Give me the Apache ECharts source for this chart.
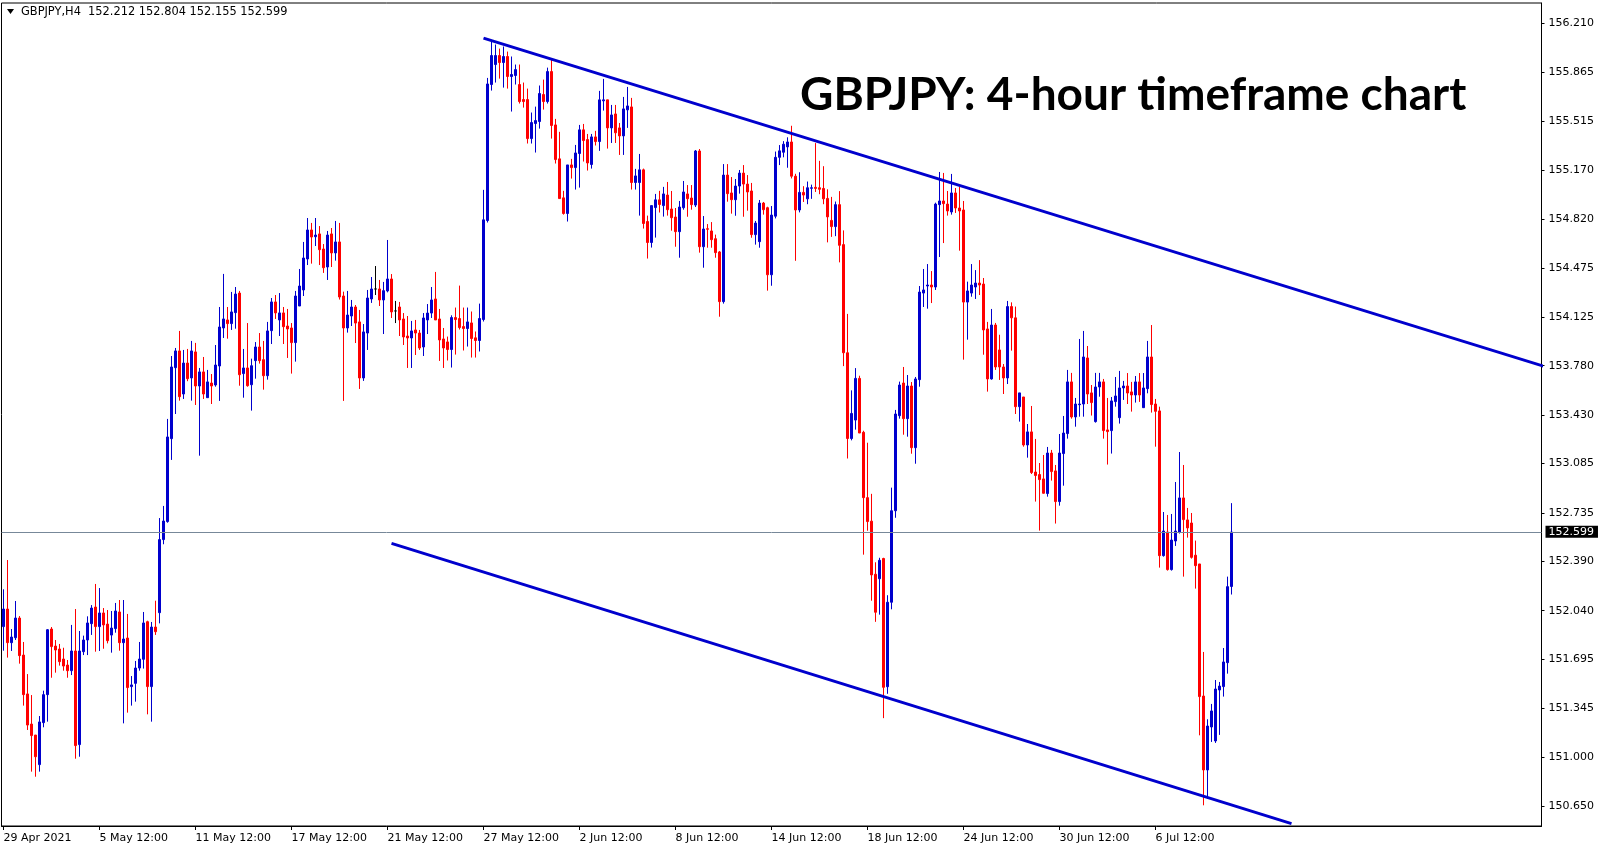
<!DOCTYPE html>
<html>
<head>
<meta charset="utf-8">
<script src="https://cdn.jsdelivr.net/npm/echarts@6/dist/echarts.min.js"></script>
<style>
html,body{margin:0;padding:0;background:#fff;}
#c{width:1607px;height:850px;}
</style>
</head>
<body>
<div id="c"></div>
<script>
// ---- data (GBPJPY H4) ----
const symbolHeader = "GBPJPY,H4  152.212 152.804 152.155 152.599";
const titleText = "GBPJPY: 4-hour timeframe chart";
const lastPrice = 152.599;

const xTickLabels = ["29 Apr 2021","5 May 12:00","11 May 12:00","17 May 12:00","21 May 12:00","27 May 12:00","2 Jun 12:00","8 Jun 12:00","14 Jun 12:00","18 Jun 12:00","24 Jun 12:00","30 Jun 12:00","6 Jul 12:00"];
const barsPerLabel = 24;
const totalSlots = 385;

const yTickValues = [156.210,155.865,155.515,155.170,154.820,154.475,154.125,153.780,153.430,153.085,152.735,152.390,152.040,151.695,151.345,151.000,150.650];
const yMin = 150.511, yMax = 156.356;

const opens = [151.927,152.052,151.813,151.848,151.988,151.725,151.449,151.235,151.157,150.947,151.245,151.444,151.910,151.789,151.768,151.697,151.654,151.614,151.754,151.089,151.749,151.832,151.948,152.066,151.927,152.024,151.945,151.867,151.913,152.031,151.813,151.846,151.501,151.524,151.633,151.695,151.962,151.501,151.924,152.026,152.545,152.673,153.262,153.766,153.885,153.579,153.799,153.693,153.878,153.636,153.736,153.553,153.657,153.643,153.778,154.048,154.105,154.079,154.157,154.296,153.724,153.764,153.645,153.816,153.913,153.823,153.709,154.029,154.233,154.105,154.155,154.062,154.048,153.944,154.204,154.318,154.538,154.744,154.696,154.716,154.609,154.481,154.716,154.581,154.659,154.275,154.048,154.133,154.197,154.091,153.693,154.012,154.254,154.325,154.325,154.247,154.311,154.396,154.169,154.197,154.112,153.991,153.977,154.034,154.012,153.913,154.105,154.154,154.254,154.112,153.970,153.949,153.895,154.122,154.115,154.058,154.044,154.084,153.978,153.959,154.108,154.811,155.777,155.919,155.983,155.933,155.976,155.834,155.841,155.777,155.670,155.670,155.393,155.500,155.514,155.706,155.656,155.869,155.490,155.249,154.972,154.861,155.206,155.187,155.287,155.455,155.386,155.209,155.405,155.372,155.661,155.668,155.469,155.568,155.469,155.412,155.597,155.618,155.081,155.081,155.171,154.804,154.655,154.903,154.958,154.917,154.992,154.893,154.836,154.732,154.902,155.000,154.971,154.921,155.305,154.625,154.753,154.737,154.682,154.588,154.235,155.134,155.007,154.959,155.056,155.148,155.070,155.021,154.711,154.661,154.935,154.902,154.426,154.842,155.260,155.296,155.334,155.369,155.126,154.886,155.011,154.965,155.040,155.047,155.044,155.039,154.968,154.812,154.768,154.924,154.640,153.872,153.263,153.394,153.690,153.307,152.843,152.676,152.299,152.267,152.411,151.500,152.100,152.750,153.425,153.657,153.404,153.636,153.198,153.681,154.296,154.346,154.353,154.339,154.924,154.950,154.928,154.872,155.007,154.900,154.886,154.232,154.296,154.339,154.367,154.360,154.041,153.686,154.069,153.892,153.771,153.693,154.200,154.120,153.489,153.558,153.217,153.310,153.025,153.007,152.976,152.872,153.160,153.033,152.815,153.156,153.298,153.665,153.416,153.503,153.508,153.835,153.587,153.383,153.629,153.665,153.324,153.319,153.525,153.411,153.622,153.636,153.594,153.572,153.665,153.482,153.617,153.842,153.508,153.459,152.431,152.599,152.332,152.535,152.599,152.841,152.685,152.663,152.434,152.372,151.434,150.909,151.214,151.115,151.477,151.501,151.671,152.212];
const highs = [152.192,152.400,151.910,152.109,152.002,151.818,151.590,151.441,151.157,151.292,151.472,151.910,151.924,151.832,151.804,151.777,151.690,151.939,152.052,151.896,151.863,152.000,152.080,152.230,152.201,152.059,152.045,152.038,152.095,152.116,152.116,152.017,151.576,151.683,151.818,152.031,151.969,151.960,152.111,152.698,152.784,153.402,153.849,153.906,154.027,153.892,153.899,153.956,153.942,153.764,153.842,153.750,153.721,153.927,154.197,154.432,154.197,154.304,154.339,154.311,153.899,154.083,153.830,153.948,154.012,153.956,154.091,154.261,154.282,154.296,154.197,154.183,154.083,154.311,154.467,154.659,154.829,154.794,154.829,154.772,154.644,154.737,154.758,154.808,154.794,154.306,154.311,154.247,154.211,154.176,154.076,154.318,154.410,154.488,154.389,154.375,154.673,154.431,154.240,154.233,154.154,154.133,154.098,154.105,154.034,154.154,154.218,154.339,154.446,154.183,154.048,153.987,154.138,154.193,154.349,154.193,154.193,154.165,154.023,154.221,155.029,155.824,156.082,156.061,156.032,156.047,156.011,155.976,155.919,155.919,155.791,155.748,155.578,155.620,155.770,155.812,155.897,155.954,155.533,155.441,155.022,155.206,155.249,155.348,155.490,155.497,155.426,155.426,155.448,155.732,155.817,155.668,155.632,155.632,155.504,155.689,155.760,155.682,155.178,155.284,155.180,154.846,154.917,155.000,155.022,155.050,155.085,155.021,154.900,154.950,155.092,155.063,155.063,155.312,155.319,154.843,154.786,154.800,154.711,154.595,155.212,155.212,155.120,155.106,155.170,155.205,155.134,155.078,154.808,154.957,154.943,154.909,154.914,155.301,155.347,155.375,155.402,155.484,155.143,155.154,155.055,155.088,155.066,155.361,155.235,155.197,155.033,154.979,154.946,155.020,154.741,154.148,153.605,153.763,153.709,153.318,153.233,152.870,152.384,152.416,152.416,152.150,152.914,153.466,153.667,153.771,153.714,153.664,153.700,154.346,154.467,154.502,154.452,154.938,155.156,155.149,155.021,155.142,155.042,155.049,154.950,154.377,154.502,154.459,154.530,154.403,154.091,154.183,154.084,154.000,153.792,154.240,154.230,154.200,153.587,153.558,153.366,153.494,153.260,153.089,153.146,153.203,153.182,153.075,153.295,153.423,153.750,153.729,153.551,153.970,154.027,153.920,153.643,153.729,153.729,153.686,153.551,153.558,153.700,153.743,153.672,153.728,153.665,153.707,153.728,153.728,153.956,154.069,153.544,153.489,152.741,152.720,152.727,152.954,153.167,153.075,152.770,152.734,152.538,152.372,151.747,151.269,151.378,151.548,151.534,151.775,152.282,152.804];
const lows = [151.756,151.707,151.754,151.832,151.664,151.366,151.193,150.897,150.861,150.897,151.212,151.252,151.564,151.600,151.650,151.614,151.564,151.583,150.989,151.003,151.725,151.725,151.868,151.749,151.754,151.770,151.808,151.742,151.884,151.756,151.240,151.316,151.366,151.394,151.614,151.629,151.304,151.252,151.868,151.950,152.512,152.665,153.111,153.437,153.532,153.544,153.670,153.532,153.501,153.141,153.544,153.553,153.508,153.631,153.530,153.977,153.972,154.034,154.043,153.638,153.553,153.631,153.461,153.688,153.795,153.610,153.681,153.934,154.112,153.991,153.934,153.835,153.724,153.809,154.204,154.275,154.495,154.505,154.630,154.495,154.439,154.389,154.481,154.526,154.250,153.530,154.015,154.062,153.941,153.615,153.672,153.892,154.226,154.282,154.204,154.005,154.301,154.119,154.083,153.991,153.927,153.764,153.764,153.856,153.892,153.849,154.005,154.119,154.105,153.814,153.764,153.817,153.767,153.859,154.037,153.888,153.916,153.838,153.838,153.881,154.094,154.797,155.734,155.791,155.819,155.755,155.748,155.585,155.777,155.642,155.613,155.358,155.358,155.294,155.464,155.599,155.642,155.393,155.216,154.967,154.853,154.804,155.109,155.031,155.045,155.230,155.166,155.180,155.344,155.306,155.592,155.322,155.362,155.362,155.277,155.277,155.469,155.031,155.031,154.846,154.754,154.541,154.619,154.690,154.868,154.839,154.846,154.739,154.625,154.547,154.888,154.838,154.888,154.907,154.583,154.476,154.618,154.618,154.547,154.128,154.221,154.945,154.860,154.845,155.002,154.838,154.881,154.689,154.640,154.618,154.853,154.313,154.348,154.826,155.205,155.260,155.186,155.110,154.525,154.869,154.943,154.927,154.965,155.014,154.998,154.927,154.656,154.695,154.700,154.514,153.777,153.121,153.250,153.326,153.302,152.438,152.608,152.111,151.961,152.012,151.277,151.450,152.050,152.700,153.404,153.290,153.276,153.155,153.084,153.631,154.197,154.185,154.225,154.318,154.552,154.651,154.846,154.853,154.865,154.597,153.823,153.965,154.270,154.254,154.282,153.858,153.596,153.681,153.750,153.679,153.579,153.650,153.887,153.437,153.383,153.205,153.127,153.011,152.815,152.609,152.872,152.850,152.964,152.659,152.786,152.928,153.262,153.404,153.347,153.418,153.418,153.508,153.426,153.376,153.560,153.262,153.078,153.156,153.489,153.369,153.537,153.508,153.454,153.518,153.523,153.482,153.584,153.447,153.205,152.346,152.424,152.325,152.325,152.500,152.588,152.282,152.559,152.410,152.197,151.155,150.658,150.703,151.108,151.101,151.158,151.430,151.593,152.155];
const closes = [152.052,151.813,151.853,151.988,151.721,151.444,151.228,151.153,151.003,151.250,151.444,151.905,151.785,151.761,151.678,151.647,151.614,151.754,151.082,151.754,151.832,151.953,152.059,151.927,152.024,151.939,151.827,151.917,152.038,151.813,151.839,151.494,151.513,151.633,151.697,151.953,151.501,151.924,151.891,152.545,152.677,153.274,153.771,153.885,153.560,153.799,153.688,153.885,153.636,153.736,153.579,153.665,153.636,153.785,154.055,154.112,154.079,154.162,154.289,153.716,153.764,153.638,153.780,153.913,153.816,153.709,154.027,154.233,154.155,154.155,154.057,154.041,153.944,154.275,154.346,154.545,154.744,154.694,154.708,154.604,154.476,154.708,154.581,154.659,154.268,154.048,154.140,154.197,154.083,153.693,154.020,154.261,154.325,154.325,154.247,154.313,154.396,154.162,154.169,154.105,153.984,153.977,154.027,154.012,153.906,154.119,154.154,154.247,154.105,153.963,153.906,153.895,154.122,154.108,154.051,154.044,154.091,153.973,153.959,154.115,154.816,155.781,155.983,155.983,155.933,155.976,155.834,155.848,155.883,155.656,155.656,155.393,155.507,155.521,155.713,155.656,155.869,155.486,155.244,154.967,154.861,155.206,155.187,155.291,155.455,155.379,155.220,155.405,155.372,155.668,155.668,155.469,155.561,155.434,155.412,155.604,155.625,155.081,155.128,155.171,154.790,154.655,154.917,154.958,154.925,155.000,154.888,154.831,154.732,154.907,155.014,154.966,154.924,155.305,154.625,154.751,154.749,154.675,154.583,154.235,155.134,155.002,154.959,155.056,155.148,155.070,155.014,154.711,154.793,154.935,154.888,154.426,154.850,155.260,155.306,155.353,155.369,155.126,154.886,155.011,154.992,155.044,155.044,155.039,155.033,154.965,154.837,154.768,154.924,154.635,153.872,153.263,153.441,153.690,153.302,152.843,152.673,152.294,152.029,152.398,151.496,152.100,152.750,153.437,153.643,153.404,153.636,153.198,153.686,154.303,154.318,154.353,154.339,154.928,154.950,154.931,154.879,155.007,154.900,154.879,154.232,154.311,154.353,154.367,154.353,154.034,153.686,154.069,153.771,153.771,153.693,154.200,154.120,153.489,153.587,153.217,153.310,153.021,153.000,152.971,152.874,153.160,153.028,152.815,153.160,153.302,153.665,153.416,153.508,153.508,153.842,153.579,153.518,153.629,153.665,153.319,153.312,153.530,153.565,153.622,153.636,153.586,153.572,153.665,153.572,153.622,153.842,153.504,153.456,152.431,152.606,152.332,152.542,152.606,152.841,152.687,152.628,152.419,152.360,151.430,150.909,151.221,151.328,151.484,151.505,151.676,152.211,152.599];

// trend lines: [bar index, price] end points
const upperTrend = [[120, 156.107], [385, 153.777]];
const lowerTrend = [[97, 152.518], [322, 150.528]];

// ---- build ----
const categories = Array.from({length: totalSlots}, (_, i) => String(i));
const candleData = opens.map((o, i) => [o, closes[i], lows[i], highs[i]]);
const isLabelIdx = (i) => i % barsPerLabel === 0 && i / barsPerLabel < xTickLabels.length;

const FONT = 'DejaVu Sans';
const chart = echarts.init(document.getElementById('c'), null, {renderer: 'canvas', width: 1607, height: 850});
chart.setOption({
  animation: false,
  backgroundColor: '#ffffff',
  grid: {left: 1.5, top: 3, width: 1540, height: 823, show: true, borderColor: '#000', borderWidth: 1, backgroundColor: 'transparent'},
  xAxis: {
    type: 'category', data: categories, boundaryGap: true, min: 0, max: totalSlots - 1,
    axisLine: {show: true, lineStyle: {color: '#000', width: 1}},
    axisTick: {show: true, alignWithLabel: true, length: 4, interval: (i) => isLabelIdx(i), lineStyle: {color: '#000'}},
    axisLabel: {show: true, interval: (i) => isLabelIdx(i), formatter: (v, i) => xTickLabels[i / barsPerLabel] || '',
      align: 'left', color: '#000', fontFamily: FONT, fontSize: 11, margin: 7},
    splitLine: {show: false}
  },
  yAxis: {
    type: 'value', position: 'right', min: yMin, max: yMax,
    axisLine: {show: true, lineStyle: {color: '#000', width: 1}},
    axisTick: {show: true, length: 3, customValues: yTickValues, lineStyle: {color: '#000'}},
    axisLabel: {show: true, customValues: yTickValues, formatter: (v) => Number(v).toFixed(3),
      color: '#000', fontFamily: FONT, fontSize: 11, margin: 7, align: 'left', verticalAlign: 'middle', padding: [4, 0, 0, 0]},
    splitLine: {show: false}
  },
  series: [
    {
      type: 'candlestick', data: candleData, barWidth: 2,
      itemStyle: {color: '#0000CD', color0: '#FF0000', borderColor: '#0000CD', borderColor0: '#FF0000', borderColorDoji: '#000000', borderWidth: 1},
      markLine: {
        silent: true, animation: false, symbol: ['none', 'none'],
        data: [{yAxis: lastPrice}],
        lineStyle: {color: '#778899', width: 1, type: 'solid'},
        label: {show: true, position: 'end', formatter: lastPrice.toFixed(3), distance: 4,
          backgroundColor: '#000', color: '#fff', fontFamily: FONT, fontSize: 11, lineHeight: 11, padding: [1, 4, 0, 3]},
        emphasis: {disabled: true}
      },
      z: 3
    },
    {type: 'line', data: upperTrend, symbol: 'none', clip: true, lineStyle: {color: '#0000CD', width: 3}, z: 4, silent: true},
    {type: 'line', data: lowerTrend, symbol: 'none', clip: true, lineStyle: {color: '#0000CD', width: 3}, z: 4, silent: true}
  ],
  graphic: [
    {type: 'polygon', shape: {points: [[7, 9], [14, 9], [10.5, 14]]}, style: {fill: '#000'}},
    {type: 'text', x: 21, y: 12.5, style: {text: symbolHeader, font: '11.4px "DejaVu Sans"', fill: '#000', textVerticalAlign: 'middle'}},
    {type: 'text', x: 800, y: 95, style: {text: titleText, font: 'bold 46px Lato', fill: '#000', textVerticalAlign: 'middle'}}
  ]
});
</script>
</body>
</html>
